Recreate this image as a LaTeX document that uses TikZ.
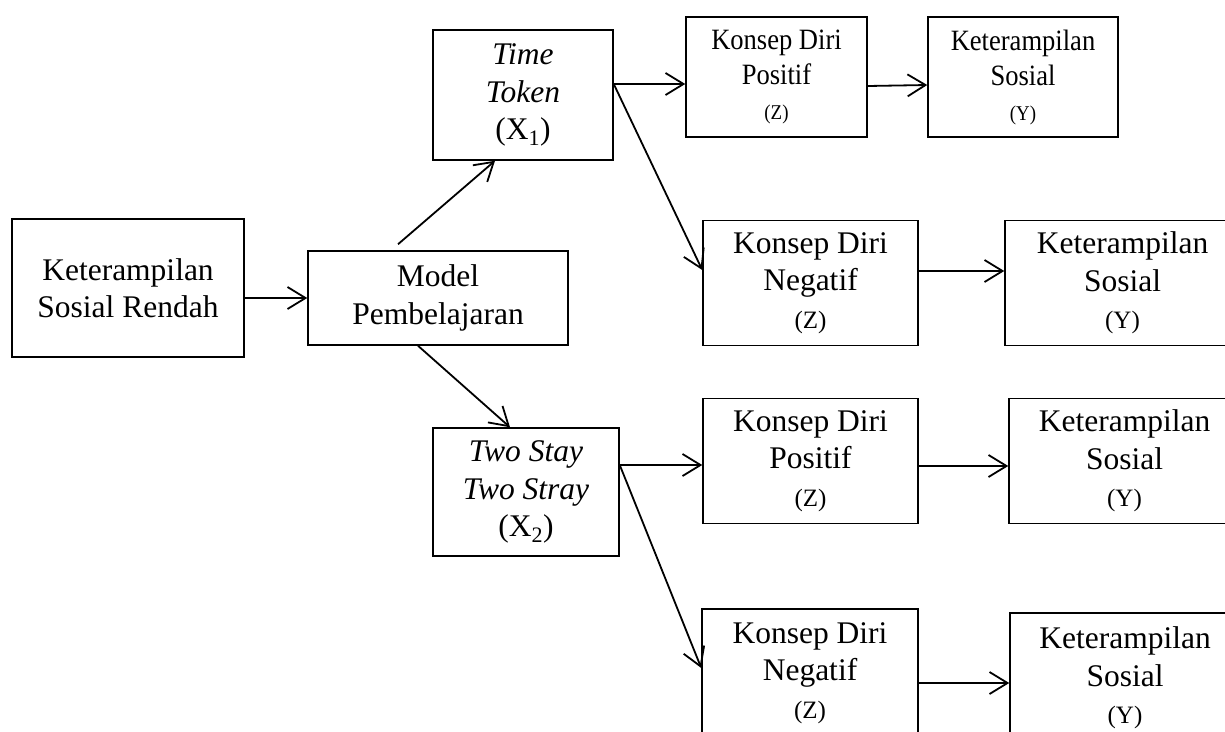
\documentclass[tikz,border=0pt]{standalone}
\usepackage{fontspec}
\setmainfont{Liberation Serif}
\newfontfamily\narrowfont{Liberation Serif}[FakeStretch=0.9]
\usetikzlibrary{arrows.meta}
\tikzset{
  box/.style={rectangle, draw, line width=1.5pt, align=center, inner sep=0pt, font=\fontsize{31.5}{37.5}\selectfont},
  smallbox/.style={box, font=\narrowfont\fontsize{29.5}{35}\selectfont},
  arrow/.style={-{Straight Barb[length=18pt,width=22pt]}, line width=1.8pt},
}
\newcommand{\varlbl}[1]{{\fontsize{25}{29}\selectfont #1}}
\newcommand{\varlblsmall}[1]{{\fontsize{21}{25}\selectfont #1}}

\begin{document}
\begin{tikzpicture}[x=1pt, y=-1pt]
  \useasboundingbox (0,0) rectangle (1225,731);
  \clip (0,0) rectangle (1225,731);
  % input and model
  \node[box, minimum width=232pt, minimum height=138pt] (low) at (128,288) {Keterampilan\\Sosial Rendah};
  \node[box, minimum width=260pt, minimum height=94pt] (model) at (438,298) {Model\\Pembelajaran};
  \node[box, minimum width=180pt, minimum height=130pt] (tt) at (523,95) {\textit{Time}\\\textit{Token}\\(X\textsubscript{1})};
  \node[box, minimum width=186pt, minimum height=128pt] (tsts) at (526,492) {\textit{Two Stay}\\\textit{Two Stray}\\(X\textsubscript{2})};
  % konsep diri
  \node[smallbox, minimum width=181pt, minimum height=120pt] (pos1) at (776.5,77) {Konsep Diri\\Positif\\\varlblsmall{(Z)}};
  \node[box, minimum width=215pt, minimum height=125pt] (neg1) at (810.5,283) {Konsep Diri\\Negatif\\\varlbl{(Z)}};
  \node[box, minimum width=215pt, minimum height=125pt] (pos2) at (810.5,461) {Konsep Diri\\Positif\\\varlbl{(Z)}};
  \node[box, minimum width=216pt, minimum height=128pt] (neg2) at (810,673) {Konsep Diri\\Negatif\\\varlbl{(Z)}};
  % keterampilan sosial
  \node[smallbox, minimum width=190pt, minimum height=120pt] (soc1) at (1023,77) {Keterampilan\\Sosial\\\varlblsmall{(Y)}};
  \node[box, minimum width=235pt, minimum height=125pt] (soc2) at (1122.5,283) {Keterampilan\\Sosial\\\varlbl{(Y)}};
  \node[box, minimum width=231pt, minimum height=125pt] (soc3) at (1124.5,461) {Keterampilan\\Sosial\\\varlbl{(Y)}};
  \node[box, minimum width=230pt, minimum height=130pt] (soc4) at (1125,678) {Keterampilan\\Sosial\\\varlbl{(Y)}};
  % arrows
  \draw[arrow] ([yshift=-10pt]low.east) -- (model.west);
  \draw[arrow] ([xshift=-40pt,yshift=6pt]model.north) -- ([xshift=-28pt]tt.south);
  \draw[arrow] ([xshift=-20pt]model.south) -- ([xshift=-16pt]tsts.north);
  \draw[arrow] ([yshift=11pt]tt.east) -- ([yshift=-7pt]pos1.west);
  \draw[arrow] ([yshift=11pt]tt.east) -- ([yshift=13pt]neg1.west);
  \draw[arrow] ([yshift=-9pt]pos1.east) -- ([yshift=-8pt]soc1.west);
  \draw[arrow] ([yshift=12pt]neg1.east) -- ([yshift=12pt]soc2.west);
  \draw[arrow] ([yshift=27pt]tsts.east) -- ([yshift=-4pt]pos2.west);
  \draw[arrow] ([yshift=27pt]tsts.east) -- ([yshift=5pt]neg2.west);
  \draw[arrow] ([yshift=-5pt]pos2.east) -- ([yshift=-5pt]soc3.west);
  \draw[arrow] ([yshift=-10pt]neg2.east) -- ([yshift=-5pt]soc4.west);
\end{tikzpicture}
\end{document}
